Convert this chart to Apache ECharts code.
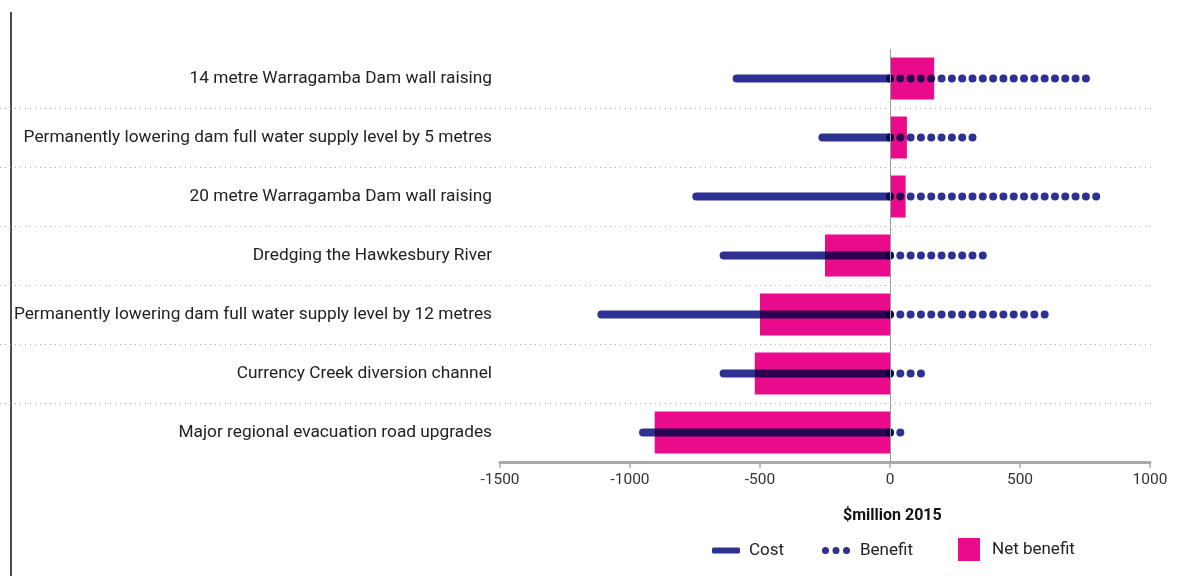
<!DOCTYPE html>
<html>
<head>
<meta charset="utf-8">
<script src="https://cdn.jsdelivr.net/npm/echarts@6/dist/echarts.min.js"></script>
<style>
  html, body { margin: 0; padding: 0; background: #fff; }
  #chart-container { width: 1187px; height: 576px; }
</style>
</head>
<body>
<div id="chart-container"></div>
<script>
let dom = document.getElementById("chart-container");
let myChart = echarts.init(dom, null, { renderer: "canvas" });

const FONT = "Roboto, 'Liberation Sans', sans-serif";
const NAVY = "#2e3192";
const PINK = "#ea0a8c";

// $million 2015
const projects = [
  "14 metre Warragamba Dam wall raising",
  "Permanently lowering dam full water supply level by 5 metres",
  "20 metre Warragamba Dam wall raising",
  "Dredging the Hawkesbury River",
  "Permanently lowering dam full water supply level by 12 metres",
  "Currency Creek diversion channel",
  "Major regional evacuation road upgrades",
];
const cost = [-590, -260, -745, -640, -1110, -640, -950];
const benefit = [760, 325, 805, 390, 610, 120, 45];
const netBenefit = [170, 65, 60, -250, -500, -520, -905];

const xTicks = { min: -1500, max: 1000, interval: 500 };

// draws a thick line from 0 to the value on the row, solid or dotted
function lineItem(dotted) {
  return function (params, api) {
    const v = api.value(0);
    const row = api.value(1);
    const p0 = api.coord([0, row]);
    const p1 = api.coord([v, row]);
    return {
      type: "line",
      shape: { x1: p0[0], y1: p0[1], x2: p1[0], y2: p1[1] },
      style: {
        stroke: NAVY,
        lineWidth: 8,
        lineCap: "round",
        lineDash: dotted ? [0.01, 10.3] : null,
      },
    };
  };
}

let option = {
  backgroundColor: "#fff",
  animation: false,
  title: {
    text: "$million 2015",
    left: 838,
    top: 503,
    textStyle: { fontFamily: FONT, fontSize: 16, fontWeight: "bold", color: "#111" },
  },
  legend: [
    {
      data: [{ name: "Cost", icon: "roundRect" }],
      left: 707, top: 537,
      itemWidth: 28, itemHeight: 6,
      textStyle: { fontFamily: FONT, fontSize: 17, color: "#222", padding: [0, 0, 0, 4] },
    },
    {
      data: [{
        name: "Benefit",
        icon: "path://M0,3.5a3.5,3.5 0 1,0 7,0a3.5,3.5 0 1,0 -7,0M10.5,3.5a3.5,3.5 0 1,0 7,0a3.5,3.5 0 1,0 -7,0M21,3.5a3.5,3.5 0 1,0 7,0a3.5,3.5 0 1,0 -7,0",
      }],
      left: 817, top: 537,
      itemWidth: 30, itemHeight: 7,
      textStyle: { fontFamily: FONT, fontSize: 17, color: "#222", padding: [0, 0, 0, 4] },
    },
    {
      data: [{ name: "Net benefit", icon: "rect" }],
      left: 953, top: 533,
      itemWidth: 22, itemHeight: 23,
      textStyle: { fontFamily: FONT, fontSize: 17, color: "#222", padding: [0, 0, 0, 7] },
    },
  ],
  grid: [
    { left: 500, right: 37, top: 49, bottom: 114, containLabel: false, outerBoundsMode: "none" },
    // wider helper grid only for the dotted row separators
    { left: 0, right: 34, top: 49, bottom: 114, containLabel: false, outerBoundsMode: "none" },
  ],
  xAxis: [
    {
      type: "value",
      min: xTicks.min,
      max: xTicks.max,
      interval: xTicks.interval,
      splitLine: { show: false },
      axisLine: { show: true, lineStyle: { color: "#aaaaaa", width: 3 } },
      axisTick: { show: true, length: 6, lineStyle: { color: "#aaaaaa", width: 1.5 } },
      axisLabel: {
        fontFamily: FONT, fontSize: 15.5, color: "#333", margin: 10,
        formatter: (v) => String(v),
      },
    },
    { type: "value", gridIndex: 1, min: 0, max: 1, show: false },
  ],
  yAxis: [
    {
      type: "category",
      data: projects,
      inverse: true,
      axisLine: { show: false },
      axisTick: { show: false },
      axisLabel: { fontFamily: FONT, fontSize: 17.3, color: "#222", margin: 8 },
    },
    {
      type: "category",
      gridIndex: 1,
      data: projects,
      inverse: true,
      axisLine: { show: false },
      axisTick: { show: false },
      axisLabel: { show: false },
      splitLine: {
        show: true,
        showMinLine: false,
        showMaxLine: false,
        lineStyle: { color: "#b0b0b0", type: [1, 4], width: 1 },
      },
    },
  ],
  series: [
    {
      name: "Net benefit",
      type: "bar",
      data: netBenefit,
      barWidth: 42,
      itemStyle: { color: PINK },
      z: 2,
      markLine: {
        silent: true,
        symbol: "none",
        label: { show: false },
        lineStyle: { color: "#999", width: 1, type: "solid" },
        data: [{ xAxis: 0 }],
      },
    },
    {
      name: "Cost",
      type: "custom",
      data: cost.map((v, i) => [v, i]),
      encode: { x: 0, y: 1 },
      itemStyle: { color: NAVY },
      renderItem: lineItem(false),
      blendMode: "multiply",
      z: 3,
    },
    {
      name: "Benefit",
      type: "custom",
      data: benefit.map((v, i) => [v, i]),
      encode: { x: 0, y: 1 },
      itemStyle: { color: NAVY },
      renderItem: lineItem(true),
      blendMode: "multiply",
      z: 3,
    },
  ],
  graphic: [
    {
      type: "line",
      shape: { x1: 11, y1: 12, x2: 11, y2: 576 },
      style: { stroke: "#111", lineWidth: 1.5 },
    },
  ],
};

myChart.setOption(option);
window.addEventListener("resize", myChart.resize);
</script>
</body>
</html>
